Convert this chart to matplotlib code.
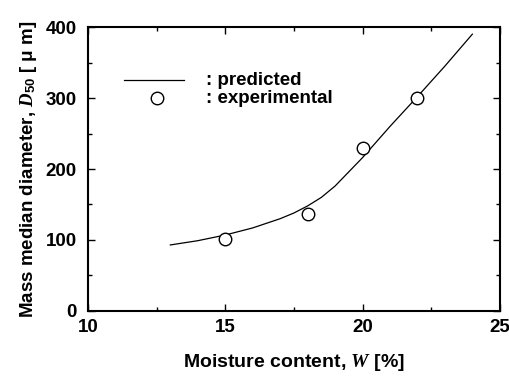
import matplotlib.pyplot as plt
from matplotlib.ticker import MultipleLocator

# experimental points
w_exp = [15, 18, 20, 22]
d_exp = [102, 137, 229, 300]

# predicted curve
w_pred = [13, 14, 15, 16, 17, 17.5, 18, 18.5, 19, 19.5, 20, 20.5, 21, 22, 23, 24]
d_pred = [93, 99, 107, 117, 130, 138, 148, 160, 176, 196, 216, 238, 260, 302, 345, 390]

plt.rcParams['font.family'] = ['Liberation Sans', 'DejaVu Sans']
plt.rcParams['font.weight'] = 'bold'
plt.rcParams['mathtext.fontset'] = 'custom'
plt.rcParams['mathtext.it'] = 'Liberation Serif:italic'
plt.rcParams['mathtext.rm'] = 'Liberation Sans:bold'

fig = plt.figure(figsize=(5.1, 3.76), dpi=100)
ax = fig.add_axes([0.1725, 0.173, 0.8075, 0.755])

ax.plot(w_pred, d_pred, 'k-', lw=0.9)
ax.plot(w_exp, d_exp, 'o', mfc='white', mec='black', ms=9, mew=1.0)

ax.set_xlim(10, 25)
ax.set_ylim(0, 400)
ax.xaxis.set_major_locator(MultipleLocator(5))
ax.xaxis.set_minor_locator(MultipleLocator(2.5))
ax.yaxis.set_major_locator(MultipleLocator(100))
ax.yaxis.set_minor_locator(MultipleLocator(50))
ax.tick_params(which='both', direction='in', top=True, right=True, labelsize=13.5, width=1.0)
ax.tick_params(which='major', length=5)
ax.tick_params(which='minor', length=3)
for s in ax.spines.values():
    s.set_linewidth(1.5)
ax.tick_params(axis='x', pad=6)
ax.tick_params(axis='y', pad=8)

ax.set_xlabel('Moisture content, $W$ [%]', fontsize=14, fontweight='bold', labelpad=11)
ax.set_ylabel('Mass median diameter, $D_{50}$ [ \u03bc m]', fontsize=13.5, fontweight='bold', labelpad=5)

# legend drawn by hand
ax.plot([11.3, 13.5], [325, 325], 'k-', lw=0.9)
ax.plot([12.5], [300], 'o', mfc='white', mec='black', ms=9, mew=1.0)
ax.text(14.3, 325, ': predicted', fontsize=13.5, fontweight='bold', va='center')
ax.text(14.3, 300, ': experimental', fontsize=13.5, fontweight='bold', va='center')

fig.savefig('out.png')
